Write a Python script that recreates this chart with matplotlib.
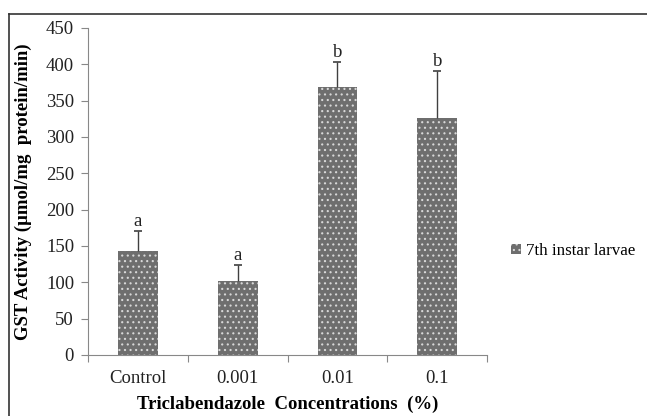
import matplotlib
matplotlib.use("Agg")
import matplotlib.pyplot as plt
from matplotlib.lines import Line2D

# chart data
categories = ['Control', '0.001', '0.01', '0.1']
gst_activity = [143, 101, 369, 326]
gst_err = [28, 23, 34, 65]
letters = ['a', 'a', 'b', 'b']
y_ticks = [0, 50, 100, 150, 200, 250, 300, 350, 400, 450]

plt.rcParams['font.family'] = ['Liberation Serif', 'DejaVu Serif']
plt.rcParams['hatch.linewidth'] = 0.8

fig = plt.figure(figsize=(6.47, 4.16), dpi=100)
ax = fig.add_axes([0.136, 0.147, 0.617, 0.786])

x = list(range(len(categories)))
tops = [v + e for v, e in zip(gst_activity, gst_err)]
bars = ax.bar(x, gst_activity, width=0.4, color='#6e6e6e', hatch='...',
              edgecolor='#d8d8d8', linewidth=0, label='7th instar larvae')

# upper-only error bars with a cap
ax.vlines(x, gst_activity, tops, color='#404040', lw=1)
ax.hlines(tops, [xi - 0.04 for xi in x], [xi + 0.04 for xi in x], color='#404040', lw=1.2)

for xi, t, lab in zip(x, tops, letters):
    ax.text(xi, t + 1, lab, ha='center', va='bottom', fontsize=13.5, color='#222222')

ax.set_xlim(-0.5, len(categories) - 0.5)
ax.set_ylim(0, 450)
ax.set_yticks(y_ticks)
ax.tick_params(axis='y', labelsize=13.5, length=5, color='#888888', labelcolor='#222222', pad=5)

# boundary ticks on x, labels at the bar centres
ax.set_xticks([i - 0.5 for i in range(len(categories) + 1)])
ax.set_xticklabels([''] * (len(categories) + 1))
ax.set_xticks(x, minor=True)
ax.set_xticklabels(categories, minor=True)
ax.tick_params(axis='x', which='major', length=5, color='#888888')
ax.tick_params(axis='x', which='minor', length=0, labelsize=13.5, pad=11, labelcolor='#222222')

for s in ['top', 'right']:
    ax.spines[s].set_visible(False)
for s in ['left', 'bottom']:
    ax.spines[s].set_color('#888888')

ax.set_ylabel('GST Activity (µmol/mg  protein/min)', fontsize=13.5, fontweight='bold', labelpad=10)
ax.set_xlabel('Triclabendazole  Concentrations  (%)', fontsize=13.5, fontweight='bold', labelpad=6)

ax.legend(loc='center left', bbox_to_anchor=(1.022, 0.318), frameon=False, fontsize=12.2,
          handlelength=0.55, handleheight=0.55, handletextpad=0.35)

# outer frame (top and left edges visible)
fig.add_artist(Line2D([9 / 647, 1.0], [1 - 14 / 416, 1 - 14 / 416], color='#333333', lw=1.2))
fig.add_artist(Line2D([9 / 647, 9 / 647], [0, 1 - 14 / 416], color='#333333', lw=1.2))

fig.savefig('out.png', dpi=100)
